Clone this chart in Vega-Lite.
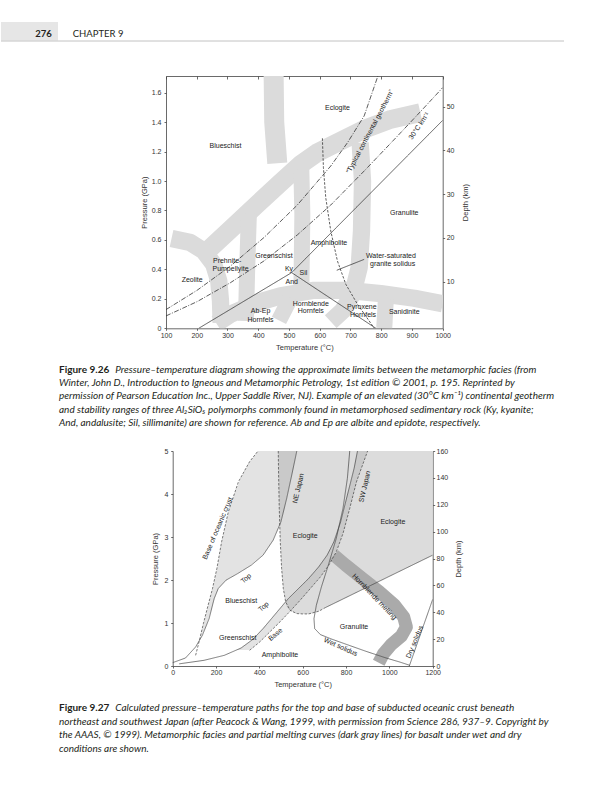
{
"$schema": "https://vega.github.io/schema/vega-lite/v6.json",
"padding": {"left": 0, "top": 22, "right": 0, "bottom": 0},
"spacing": 0,
"bounds": "flush",
"config": {
  "view": {"stroke": null},
  "font": "Liberation Sans",
  "text": {"font": "Liberation Sans", "fontSize": 7, "color": "#222222"},
  "axis": {"labelFont": "Liberation Sans", "titleFont": "Liberation Sans", "labelFontSize": 7, "titleFontSize": 7.5, "titleFontWeight": "normal", "labelColor": "#333333", "titleColor": "#333333", "domainColor": "#444444", "tickColor": "#444444", "domainWidth": 0.8, "tickWidth": 0.8, "tickSize": 2, "labelPadding": 2, "grid": false, "labelFlush": false, "labelOverlap": false}
},
"datasets": {
  "f1_bands": [
    {"id":"b1","w":"wide","i":0,"T":225.0,"P":0.507},{"id":"b1","w":"wide","i":1,"T":309.8,"P":0.672},{"id":"b1","w":"wide","i":2,"T":396.8,"P":0.842},{"id":"b1","w":"wide","i":3,"T":472.8,"P":0.989},{"id":"b1","w":"wide","i":4,"T":538.1,"P":1.113},{"id":"b1","w":"wide","i":5,"T":592.4,"P":1.193},{"id":"b1","w":"wide","i":6,"T":657.6,"P":1.26},{"id":"b1","w":"wide","i":7,"T":744.6,"P":1.351},{"id":"b1","w":"wide","i":8,"T":831.6,"P":1.419},{"id":"b1","w":"wide","i":9,"T":927.2,"P":1.464},
    {"id":"b2a","w":"xwide","i":0,"T":450,"P":1.73},{"id":"b2a","w":"xwide","i":1,"T":452,"P":1.4},{"id":"b2a","w":"xwide","i":2,"T":462,"P":1.12},
    {"id":"b2b","w":"narrow","i":0,"T":540.2,"P":1.079},{"id":"b2b","w":"narrow","i":1,"T":543.5,"P":0.774},{"id":"b2b","w":"narrow","i":2,"T":540.2,"P":0.231},
    {"id":"b3","w":"mid","i":0,"T":118,"P":0.61},{"id":"b3","w":"mid","i":1,"T":179.4,"P":0.582},{"id":"b3","w":"mid","i":2,"T":222.8,"P":0.525},{"id":"b3","w":"mid","i":3,"T":255.4,"P":0.434},{"id":"b3","w":"mid","i":4,"T":271.7,"P":0.321},{"id":"b3","w":"mid","i":5,"T":277.2,"P":0.186},{"id":"b3","w":"mid","i":6,"T":279.4,"P":0.038},
    {"id":"b4","w":"narrow","i":0,"T":369.6,"P":0.778},{"id":"b4","w":"narrow","i":1,"T":364,"P":0.4},{"id":"b4","w":"narrow","i":2,"T":360,"P":0.05},
    {"id":"b5","w":"mid","i":0,"T":731.5,"P":1.26},{"id":"b5","w":"mid","i":1,"T":739.2,"P":1.0},{"id":"b5","w":"mid","i":2,"T":735.9,"P":0.661},{"id":"b5","w":"mid","i":3,"T":728.3,"P":0.412},{"id":"b5","w":"mid","i":4,"T":706.6,"P":0.231},{"id":"b5","w":"mid","i":5,"T":673.9,"P":0.118},{"id":"b5","w":"mid","i":6,"T":635.9,"P":0.045},
    {"id":"b6","w":"mid","i":0,"T":264.1,"P":0.032},{"id":"b6","w":"mid","i":1,"T":309.8,"P":0.095},{"id":"b6","w":"mid","i":2,"T":396.8,"P":0.174},{"id":"b6","w":"mid","i":3,"T":472.8,"P":0.22},{"id":"b6","w":"mid","i":4,"T":581.5,"P":0.258},{"id":"b6","w":"mid","i":5,"T":690.2,"P":0.258},{"id":"b6","w":"mid","i":6,"T":798.9,"P":0.235},{"id":"b6","w":"mid","i":7,"T":907.6,"P":0.204},{"id":"b6","w":"mid","i":8,"T":1000,"P":0.167},
    {"id":"b7","w":"narrow","i":0,"T":467.4,"P":0.054},{"id":"b7","w":"narrow","i":1,"T":505.5,"P":0.208},
    {"id":"b8","w":"narrow","i":0,"T":815.2,"P":0.197},{"id":"b8","w":"narrow","i":1,"T":809.8,"P":0.0}
  ],
  "f1_lines": [
    {"id":"geo","style":"dashdot","i":0,"T":100,"P":0.127},{"id":"geo","style":"dashdot","i":1,"T":201.1,"P":0.258},{"id":"geo","style":"dashdot","i":2,"T":309.8,"P":0.423},{"id":"geo","style":"dashdot","i":3,"T":418.5,"P":0.616},{"id":"geo","style":"dashdot","i":4,"T":527.2,"P":0.837},{"id":"geo","style":"dashdot","i":5,"T":635.9,"P":1.102},{"id":"geo","style":"dashdot","i":6,"T":690.2,"P":1.26},{"id":"geo","style":"dashdot","i":7,"T":744.6,"P":1.442},{"id":"geo","style":"dashdot","i":8,"T":792,"P":1.73},
    {"id":"g30","style":"dashdot","i":0,"T":100,"P":0.084},{"id":"g30","style":"dashdot","i":1,"T":201.1,"P":0.181},{"id":"g30","style":"dashdot","i":2,"T":309.8,"P":0.31},{"id":"g30","style":"dashdot","i":3,"T":418.5,"P":0.457},{"id":"g30","style":"dashdot","i":4,"T":527.2,"P":0.634},{"id":"g30","style":"dashdot","i":5,"T":635.9,"P":0.837},{"id":"g30","style":"dashdot","i":6,"T":744.6,"P":1.068},{"id":"g30","style":"dashdot","i":7,"T":853.3,"P":1.306},{"id":"g30","style":"dashdot","i":8,"T":929.4,"P":1.475},{"id":"g30","style":"dashdot","i":9,"T":1000,"P":1.634},
    {"id":"alsi","style":"solid","i":0,"T":206.5,"P":0.0},{"id":"alsi","style":"solid","i":1,"T":508.7,"P":0.378},{"id":"alsi","style":"solid","i":2,"T":1000,"P":1.412},
    {"id":"andsil","style":"solid","i":0,"T":508.7,"P":0.378},{"id":"andsil","style":"solid","i":1,"T":782.6,"P":0.0},
    {"id":"wss","style":"dashed","i":0,"T":608.7,"P":1.29},{"id":"wss","style":"dashed","i":1,"T":612,"P":1.091},{"id":"wss","style":"dashed","i":2,"T":619.6,"P":0.887},{"id":"wss","style":"dashed","i":3,"T":635.9,"P":0.661},{"id":"wss","style":"dashed","i":4,"T":657.6,"P":0.457},{"id":"wss","style":"dashed","i":5,"T":684.8,"P":0.299},{"id":"wss","style":"dashed","i":6,"T":722.9,"P":0.163},{"id":"wss","style":"dashed","i":7,"T":760.9,"P":0.05},{"id":"wss","style":"dashed","i":8,"T":777.2,"P":0.0},
    {"id":"leader","style":"solid","i":0,"T":744.6,"P":0.468},{"id":"leader","style":"solid","i":1,"T":655.4,"P":0.394}
  ],
  "f1_labels": [
    {"text":"Eclogite","T":657.6,"P":1.498},{"text":"Blueschist","T":293.5,"P":1.238},{"text":"Granulite","T":875,"P":0.785},{"text":"Amphibolite","T":630,"P":0.582},{"text":"Greenschist","T":451,"P":0.491},{"text":"Prehnite-","T":299,"P":0.457},{"text":"Pumpellyite","T":310,"P":0.4},{"text":"Zeolite","T":185,"P":0.328},{"text":"Water-saturated","T":831.6,"P":0.491},{"text":"granite solidus","T":837,"P":0.434},{"text":"Ky","T":500,"P":0.405},{"text":"Sil","T":547,"P":0.378},{"text":"And","T":509,"P":0.317},{"text":"Hornblende","T":571,"P":0.167},{"text":"Hornfels","T":571,"P":0.118},{"text":"Ab-Ep","T":407.6,"P":0.118},{"text":"Hornfels","T":407.6,"P":0.054},{"text":"Pyroxene","T":737,"P":0.145},{"text":"Hornfels","T":741,"P":0.09},{"text":"Sanidinite","T":875,"P":0.113}
  ],
  "f2_field": [
    {"P":1.211,"TL":600,"TR":627},{"P":1.219,"TL":572.8,"TR":640},{"P":1.25,"TL":556,"TR":660},{"P":1.297,"TL":541.6,"TR":682},{"P":1.359,"TL":528,"TR":705},{"P":1.491,"TL":521.4,"TR":758.6},{"P":1.801,"TL":510.5,"TR":884.5},{"P":2.267,"TL":502.7,"TR":1073.7},{"P":2.578,"TL":499.5,"TR":1200},{"P":2.888,"TL":496.5,"TR":1200},{"P":3.665,"TL":491.8,"TR":1200},{"P":4.441,"TL":488.7,"TR":1200},{"P":5.0,"TL":487.2,"TR":1200}
  ],
  "f2_hatch": [
    {"id":"NE","P":0.6,"TL":123.3,"TR":123.9},{"id":"NE","P":1.0,"TL":142.3,"TR":159.9},{"id":"NE","P":1.4,"TL":162.7,"TR":183.0},{"id":"NE","P":1.8,"TL":183.7,"TR":210.0},{"id":"NE","P":2.0,"TL":192.3,"TR":247.6},{"id":"NE","P":2.3,"TL":205.1,"TR":348.2},{"id":"NE","P":2.6,"TL":215.6,"TR":420.0},{"id":"NE","P":2.9,"TL":226.2,"TR":460.2},{"id":"NE","P":3.3,"TL":244.0,"TR":495.1},{"id":"NE","P":3.6,"TL":257.7,"TR":511.6},{"id":"NE","P":4.0,"TL":284.4,"TR":530.5},{"id":"NE","P":4.4,"TL":316.1,"TR":547.6},{"id":"NE","P":4.75,"TL":354.8,"TR":562.3},{"id":"NE","P":5.0,"TL":393.8,"TR":572.8},
    {"id":"SW","P":0.37,"TL":293.6,"TR":355},{"id":"SW","P":0.4,"TL":307.3,"TR":363.3},{"id":"SW","P":0.6,"TL":364.7,"TR":409.8},{"id":"SW","P":0.8,"TL":404.0,"TR":449.8},{"id":"SW","P":1.0,"TL":438.9,"TR":489.9},{"id":"SW","P":1.3,"TL":489.1,"TR":546.5},{"id":"SW","P":1.6,"TL":540.2,"TR":600.4},{"id":"SW","P":1.9,"TL":600.3,"TR":652.0},{"id":"SW","P":2.2,"TL":655.7,"TR":699.9},{"id":"SW","P":2.5,"TL":701.6,"TR":737.8},{"id":"SW","P":2.8,"TL":735.1,"TR":765.5},{"id":"SW","P":3.1,"TL":758.1,"TR":787.0},{"id":"SW","P":3.5,"TL":782.4,"TR":808.3},{"id":"SW","P":4.0,"TL":807.5,"TR":833.9},{"id":"SW","P":4.5,"TL":832.5,"TR":863.6},{"id":"SW","P":5.0,"TL":852.9,"TR":899.6}
  ],
  "f2_hbl": [
    {"i":0,"T":744.0,"P":2.578},{"i":1,"T":798.4,"P":2.345},{"i":2,"T":876.2,"P":2.034},{"i":3,"T":954.1,"P":1.724},{"i":4,"T":1024.1,"P":1.413},{"i":5,"T":1066.1,"P":1.141},{"i":6,"T":1078.6,"P":0.908},{"i":7,"T":1055.2,"P":0.699},{"i":8,"T":1008.5,"P":0.497},{"i":9,"T":972.7,"P":0.287},{"i":10,"T":951.0,"P":0.078}
  ],
  "f2_lines": [
    {"id":"ne_base","style":"dashed","i":0,"T":105.8,"P":0.248},{"id":"ne_base","style":"dashed","i":1,"T":121.4,"P":0.559},{"id":"ne_base","style":"dashed","i":2,"T":141.6,"P":0.986},{"id":"ne_base","style":"dashed","i":3,"T":163.4,"P":1.413},{"id":"ne_base","style":"dashed","i":4,"T":183.7,"P":1.801},{"id":"ne_base","style":"dashed","i":5,"T":203.9,"P":2.267},{"id":"ne_base","style":"dashed","i":6,"T":225.7,"P":2.888},{"id":"ne_base","style":"dashed","i":7,"T":256.8,"P":3.587},{"id":"ne_base","style":"dashed","i":8,"T":303.5,"P":4.286},{"id":"ne_base","style":"dashed","i":9,"T":354.9,"P":4.752},{"id":"ne_base","style":"dashed","i":10,"T":393.8,"P":5.0},
    {"id":"ne_top","style":"solid","i":0,"T":0,"P":0.078},{"id":"ne_top","style":"solid","i":1,"T":59.1,"P":0.186},{"id":"ne_top","style":"solid","i":2,"T":105.8,"P":0.443},{"id":"ne_top","style":"solid","i":3,"T":137.0,"P":0.714},{"id":"ne_top","style":"solid","i":4,"T":168.1,"P":1.102},{"id":"ne_top","style":"solid","i":5,"T":191.4,"P":1.568},{"id":"ne_top","style":"solid","i":6,"T":210.1,"P":1.801},{"id":"ne_top","style":"solid","i":7,"T":245.9,"P":1.995},{"id":"ne_top","style":"solid","i":8,"T":300.4,"P":2.151},{"id":"ne_top","style":"solid","i":9,"T":362.6,"P":2.345},{"id":"ne_top","style":"solid","i":10,"T":417.1,"P":2.578},{"id":"ne_top","style":"solid","i":11,"T":463.8,"P":2.927},{"id":"ne_top","style":"solid","i":12,"T":499.6,"P":3.354},{"id":"ne_top","style":"solid","i":13,"T":526.1,"P":3.898},{"id":"ne_top","style":"solid","i":14,"T":549.4,"P":4.441},{"id":"ne_top","style":"solid","i":15,"T":572.8,"P":5.0},
    {"id":"sw_top","style":"solid","i":0,"T":30,"P":0.05},{"id":"sw_top","style":"solid","i":1,"T":144.7,"P":0.132},{"id":"sw_top","style":"solid","i":2,"T":238.1,"P":0.248},{"id":"sw_top","style":"solid","i":3,"T":315.9,"P":0.419},{"id":"sw_top","style":"solid","i":4,"T":370.4,"P":0.621},{"id":"sw_top","style":"solid","i":5,"T":417.1,"P":0.87},{"id":"sw_top","style":"solid","i":6,"T":456.0,"P":1.102},{"id":"sw_top","style":"solid","i":7,"T":494.9,"P":1.335},{"id":"sw_top","style":"solid","i":8,"T":533.8,"P":1.568},{"id":"sw_top","style":"solid","i":9,"T":580.5,"P":1.801},{"id":"sw_top","style":"solid","i":10,"T":627.2,"P":2.034},{"id":"sw_top","style":"solid","i":11,"T":673.9,"P":2.306},{"id":"sw_top","style":"solid","i":12,"T":712.8,"P":2.578},{"id":"sw_top","style":"solid","i":13,"T":744.0,"P":2.888},{"id":"sw_top","style":"solid","i":14,"T":775.1,"P":3.354},{"id":"sw_top","style":"solid","i":15,"T":806.2,"P":3.975},{"id":"sw_top","style":"solid","i":16,"T":837.3,"P":4.596},{"id":"sw_top","style":"solid","i":17,"T":852.9,"P":5.0},
    {"id":"sw_base","style":"dashed","i":0,"T":354.9,"P":0.365},{"id":"sw_base","style":"dashed","i":1,"T":401.6,"P":0.559},{"id":"sw_base","style":"dashed","i":2,"T":448.2,"P":0.792},{"id":"sw_base","style":"dashed","i":3,"T":494.9,"P":1.025},{"id":"sw_base","style":"dashed","i":4,"T":541.6,"P":1.273},{"id":"sw_base","style":"dashed","i":5,"T":588.3,"P":1.53},{"id":"sw_base","style":"dashed","i":6,"T":635.0,"P":1.801},{"id":"sw_base","style":"dashed","i":7,"T":681.7,"P":2.073},{"id":"sw_base","style":"dashed","i":8,"T":720.6,"P":2.345},{"id":"sw_base","style":"dashed","i":9,"T":754.9,"P":2.655},{"id":"sw_base","style":"dashed","i":10,"T":786.0,"P":3.082},{"id":"sw_base","style":"dashed","i":11,"T":817.1,"P":3.665},{"id":"sw_base","style":"dashed","i":12,"T":848.2,"P":4.286},{"id":"sw_base","style":"dashed","i":13,"T":899.6,"P":5.0},
    {"id":"wet","style":"solid","i":0,"T":817.1,"P":5.0},{"id":"wet","style":"solid","i":1,"T":806.2,"P":4.363},{"id":"wet","style":"solid","i":2,"T":786.0,"P":3.665},{"id":"wet","style":"solid","i":3,"T":754.9,"P":2.966},{"id":"wet","style":"solid","i":4,"T":720.6,"P":2.384},{"id":"wet","style":"solid","i":5,"T":686.4,"P":1.84},{"id":"wet","style":"solid","i":6,"T":663.0,"P":1.413},{"id":"wet","style":"solid","i":7,"T":652.1,"P":1.102},{"id":"wet","style":"solid","i":8,"T":655.2,"P":0.87},{"id":"wet","style":"solid","i":9,"T":681.7,"P":0.73},{"id":"wet","style":"solid","i":10,"T":736.2,"P":0.621},{"id":"wet","style":"solid","i":11,"T":814.0,"P":0.481},{"id":"wet","style":"solid","i":12,"T":891.8,"P":0.342},{"id":"wet","style":"solid","i":13,"T":985.2,"P":0.186},{"id":"wet","style":"solid","i":14,"T":1047.5,"P":0.093},{"id":"wet","style":"solid","i":15,"T":1094.1,"P":0.016},
    {"id":"dry","style":"solid","i":0,"T":1092,"P":0.0},{"id":"dry","style":"solid","i":1,"T":1200,"P":1.55},
    {"id":"fieldL","style":"dashed","i":0,"T":487.2,"P":5.0},{"id":"fieldL","style":"dashed","i":1,"T":488.7,"P":4.441},{"id":"fieldL","style":"dashed","i":2,"T":491.8,"P":3.665},{"id":"fieldL","style":"dashed","i":3,"T":496.5,"P":2.888},{"id":"fieldL","style":"dashed","i":4,"T":502.7,"P":2.267},{"id":"fieldL","style":"dashed","i":5,"T":510.5,"P":1.801},{"id":"fieldL","style":"dashed","i":6,"T":521.4,"P":1.491},{"id":"fieldL","style":"dashed","i":7,"T":541.6,"P":1.297},{"id":"fieldL","style":"dashed","i":8,"T":572.8,"P":1.219},{"id":"fieldL","style":"dashed","i":9,"T":600,"P":1.211},{"id":"fieldL","style":"dashed","i":10,"T":627.2,"P":1.211},{"id":"fieldL","style":"dashed","i":11,"T":673.9,"P":1.273},{"id":"fieldL","style":"dashed","i":12,"T":705,"P":1.359},
    {"id":"fieldR","style":"solid","i":0,"T":705,"P":1.359},{"id":"fieldR","style":"solid","i":1,"T":1200,"P":2.578}
  ],
  "f2_labels": [
    {"text":"Eclogite","T":611.6,"P":3.02},{"text":"Eclogite","T":1016,"P":3.35},{"text":"Blueschist","T":316,"P":1.51},{"text":"Greenschist","T":300,"P":0.64},{"text":"Amphibolite","T":495,"P":0.25},{"text":"Granulite","T":837,"P":0.91}
  ]
},
"vconcat": [
  {
    "width": 57, "height": 18.5,
    "view": {"fill": "#e6e6e6", "stroke": null},
    "data": {"values": [{"a": "276", "b": "CHAPTER 9"}]},
    "layer": [
      {"mark": {"type": "text", "align": "right", "baseline": "middle", "dx": 22.2, "dy": 2.75, "font": "Lato", "fontSize": 9.5, "fontWeight": "bold", "color": "#231f20"}, "encoding": {"text": {"field": "a"}}},
      {"mark": {"type": "text", "align": "left", "baseline": "middle", "dx": 43.2, "dy": 2.75, "font": "Lato", "fontSize": 9.5, "color": "#231f20"}, "encoding": {"text": {"field": "b"}}}
    ]
  },
  {
    "width": 563, "height": 34.5,
    "data": {"values": [{}]},
    "mark": {"type": "rule", "color": "#c2c2c2", "strokeWidth": 1},
    "encoding": {
      "x": {"datum": 0, "type": "quantitative", "scale": {"domain": [0, 1]}, "axis": null},
      "x2": {"datum": 1},
      "y": {"datum": 1, "type": "quantitative", "scale": {"domain": [0, 1]}, "axis": null}
    }
  },
  {
    "width": 441.7, "height": 252.3,
    "resolve": {"axis": {"x": "independent", "y": "independent"}},
    "layer": [
      {
        "data": {"name": "f1_bands"},
        "mark": {"type": "line", "clip": true, "color": "#dbdbdb", "strokeCap": "butt", "strokeJoin": "round"},
        "encoding": {
          "x": {"field": "T", "type": "quantitative", "scale": {"domain": [100, 1000], "range": [165, 441.7], "nice": false, "zero": false},
                "axis": {"orient": "bottom", "values": [100,200,300,400,500,600,700,800,900,1000], "format": "d", "title": "Temperature (°C)", "labelPadding": 1.2, "titlePadding": 5}},
          "y": {"field": "P", "type": "quantitative", "scale": {"domain": [0, 1.713], "nice": false, "zero": false},
                "axis": {"orient": "left", "offset": -165, "values": [0,0.2,0.4,0.6,0.8,1.0,1.2,1.4,1.6], "labelExpr": "datum.value == 0 ? '0' : format(datum.value, '.1f')", "title": "Pressure (GPa)", "labelPadding": 3, "titlePadding": 2.5}},
          "detail": {"field": "id"},
          "order": {"field": "i"},
          "strokeWidth": {"field": "w", "type": "nominal", "scale": {"domain": ["xwide", "wide", "mid", "narrow"], "range": [20, 16, 10, 7]}, "legend": null}
        }
      },
      {
        "data": {"name": "f1_lines"},
        "mark": {"type": "line", "clip": true, "color": "#333333", "strokeWidth": 0.8},
        "encoding": {
          "x": {"field": "T", "type": "quantitative", "scale": {"domain": [100, 1000], "range": [165, 441.7], "nice": false, "zero": false},
                "axis": {"orient": "top", "values": [100,200,300,400,500,600,700,800,900,1000], "labels": false, "title": null, "tickSize": -3}},
          "y": {"field": "P", "type": "quantitative", "scale": {"domain": [0, 1.713], "nice": false, "zero": false},
                "axis": {"orient": "right", "values": [0.3168, 0.6139, 0.911, 1.2082, 1.5053], "labelExpr": "format(round((datum.value * 147.25 - 2.9) / 4.375), 'd')", "title": "Depth (km)", "titleAngle": 270, "titleBaseline": "top", "labelPadding": 1.5, "titlePadding": 8}},
          "detail": {"field": "id"},
          "order": {"field": "i"},
          "strokeDash": {"field": "style", "type": "nominal", "scale": {"domain": ["solid", "dashdot", "dashed"], "range": [[1, 0], [5, 1.5, 1, 1.5], [2.5, 1.5]]}, "legend": null}
        }
      },
      {
        "data": {"name": "f1_labels"},
        "mark": {"type": "text", "baseline": "middle"},
        "encoding": {
          "x": {"field": "T", "type": "quantitative", "scale": {"domain": [100, 1000], "range": [165, 441.7], "nice": false, "zero": false}, "axis": null},
          "y": {"field": "P", "type": "quantitative", "scale": {"domain": [0, 1.713], "nice": false, "zero": false}, "axis": null},
          "text": {"field": "text"}
        }
      },
      {
        "data": {"values": [{"text": "“Typical continental geotherm”", "T": 764, "P": 1.335}]},
        "mark": {"type": "text", "baseline": "middle", "angle": -62},
        "encoding": {
          "x": {"field": "T", "type": "quantitative", "scale": {"domain": [100, 1000], "range": [165, 441.7], "nice": false, "zero": false}, "axis": null},
          "y": {"field": "P", "type": "quantitative", "scale": {"domain": [0, 1.713], "nice": false, "zero": false}, "axis": null},
          "text": {"field": "text"}
        }
      },
      {
        "data": {"values": [{"text": "30°C km⁻¹", "T": 924, "P": 1.374}]},
        "mark": {"type": "text", "baseline": "middle", "angle": -55},
        "encoding": {
          "x": {"field": "T", "type": "quantitative", "scale": {"domain": [100, 1000], "range": [165, 441.7], "nice": false, "zero": false}, "axis": null},
          "y": {"field": "P", "type": "quantitative", "scale": {"domain": [0, 1.713], "nice": false, "zero": false}, "axis": null},
          "text": {"field": "text"}
        }
      }
    ]
  },
  {
    "width": 116, "height": 121.7,
    "layer": [
      {"data": {"values": [{"t": "Figure 9.26"}]}, "mark": {"type": "text", "align": "left", "baseline": "middle", "dy": -20.15, "font": "Lato", "fontSize": 10, "fontWeight": "bold", "color": "#231f20"}, "encoding": {"text": {"field": "t"}}},
      {"data": {"values": [{"t": "Pressure–temperature diagram showing the approximate limits between the metamorphic facies (from"}]}, "mark": {"type": "text", "align": "left", "baseline": "middle", "dx": 56.3, "dy": -20.15, "font": "Lato", "fontSize": 10, "fontStyle": "italic", "color": "#231f20"}, "encoding": {"text": {"field": "t"}}},
      {"data": {"values": [{"t": "Winter, John D., Introduction to Igneous and Metamorphic Petrology, 1st edition © 2001, p. 195. Reprinted by"}]}, "mark": {"type": "text", "align": "left", "baseline": "middle", "dy": -6.85, "font": "Lato", "fontSize": 10, "fontStyle": "italic", "color": "#231f20"}, "encoding": {"text": {"field": "t"}}},
      {"data": {"values": [{"t": "permission of Pearson Education Inc., Upper Saddle River, NJ). Example of an elevated (30°C km⁻¹) continental geotherm"}]}, "mark": {"type": "text", "align": "left", "baseline": "middle", "dy": 6.45, "font": "Lato", "fontSize": 10, "fontStyle": "italic", "color": "#231f20"}, "encoding": {"text": {"field": "t"}}},
      {"data": {"values": [{"t": "and stability ranges of three Al₂SiO₅ polymorphs commonly found in metamorphosed sedimentary rock (Ky, kyanite;"}]}, "mark": {"type": "text", "align": "left", "baseline": "middle", "dy": 19.75, "font": "Lato", "fontSize": 10, "fontStyle": "italic", "color": "#231f20"}, "encoding": {"text": {"field": "t"}}},
      {"data": {"values": [{"t": "And, andalusite; Sil, sillimanite) are shown for reference. Ab and Ep are albite and epidote, respectively."}]}, "mark": {"type": "text", "align": "left", "baseline": "middle", "dy": 33.05, "font": "Lato", "fontSize": 10, "fontStyle": "italic", "color": "#231f20"}, "encoding": {"text": {"field": "t"}}}
    ]
  },
  {
    "width": 431.7, "height": 215,
    "resolve": {"axis": {"x": "independent", "y": "independent"}},
    "layer": [
      {
        "data": {"name": "f2_field"},
        "mark": {"type": "area", "orient": "horizontal", "color": "#dcdcdc", "clip": true},
        "encoding": {
          "y": {"field": "P", "type": "quantitative", "scale": {"domain": [0, 5], "nice": false, "zero": false},
                "axis": {"orient": "left", "offset": -171.7, "values": [0,1,2,3,4,5], "format": "d", "title": "Pressure (GPa)", "labelPadding": 2.7, "titlePadding": 5}},
          "x": {"field": "TL", "type": "quantitative", "scale": {"domain": [0, 1200], "range": [171.7, 431.7], "nice": false, "zero": false},
                "axis": {"orient": "bottom", "values": [0,200,400,600,800,1000,1200], "format": "d", "title": "Temperature (°C)", "labelPadding": 0.8, "titlePadding": 4.5}},
          "x2": {"field": "TR"}
        }
      },
      {
        "data": {"name": "f2_hatch"},
        "mark": {"type": "area", "orient": "horizontal", "color": "#999999", "opacity": 0.28, "clip": true},
        "encoding": {
          "y": {"field": "P", "type": "quantitative", "scale": {"domain": [0, 5], "nice": false, "zero": false}, "axis": null},
          "x": {"field": "TL", "type": "quantitative", "scale": {"domain": [0, 1200], "range": [171.7, 431.7], "nice": false, "zero": false}, "axis": null},
          "x2": {"field": "TR"},
          "detail": {"field": "id"}
        }
      },
      {
        "data": {"name": "f2_hbl"},
        "mark": {"type": "line", "clip": true, "color": "#aaaaaa", "strokeWidth": 13, "strokeCap": "butt", "strokeJoin": "round"},
        "encoding": {
          "x": {"field": "T", "type": "quantitative", "scale": {"domain": [0, 1200], "range": [171.7, 431.7], "nice": false, "zero": false}, "axis": null},
          "y": {"field": "P", "type": "quantitative", "scale": {"domain": [0, 5], "nice": false, "zero": false}, "axis": null},
          "order": {"field": "i"}
        }
      },
      {
        "data": {"name": "f2_lines"},
        "mark": {"type": "line", "clip": true, "color": "#444444", "strokeWidth": 0.7},
        "encoding": {
          "x": {"field": "T", "type": "quantitative", "scale": {"domain": [0, 1200], "range": [171.7, 431.7], "nice": false, "zero": false}, "axis": null},
          "y": {"field": "P", "type": "quantitative", "scale": {"domain": [0, 5], "nice": false, "zero": false},
                "axis": {"orient": "right", "values": [0, 0.625, 1.25, 1.875, 2.5, 3.125, 3.75, 4.375, 5], "labelExpr": "format(round(datum.value * 32), 'd')", "title": "Depth (km)", "titleAngle": 270, "titleBaseline": "top", "labelPadding": 1.3, "titlePadding": 7}},
          "detail": {"field": "id"},
          "order": {"field": "i"},
          "strokeDash": {"field": "style", "type": "nominal", "scale": {"domain": ["solid", "dashed"], "range": [[1, 0], [3, 1.5]]}, "legend": null}
        }
      },
      {
        "data": {"name": "f2_labels"},
        "mark": {"type": "text", "baseline": "middle"},
        "encoding": {
          "x": {"field": "T", "type": "quantitative", "scale": {"domain": [0, 1200], "range": [171.7, 431.7], "nice": false, "zero": false}, "axis": null},
          "y": {"field": "P", "type": "quantitative", "scale": {"domain": [0, 5], "nice": false, "zero": false}, "axis": null},
          "text": {"field": "text"}
        }
      },
      {
        "data": {"values": [{"text": "Hornblende melting", "T": 930.7, "P": 1.607}]},
        "mark": {"type": "text", "baseline": "middle", "angle": 46},
        "encoding": {
          "x": {"field": "T", "type": "quantitative", "scale": {"domain": [0, 1200], "range": [171.7, 431.7], "nice": false, "zero": false}, "axis": null},
          "y": {"field": "P", "type": "quantitative", "scale": {"domain": [0, 5], "nice": false, "zero": false}, "axis": null},
          "text": {"field": "text"}
        }
      },
      {
        "data": {"values": [{"text": "Wet solidus", "T": 775.1, "P": 0.44}]},
        "mark": {"type": "text", "baseline": "middle", "angle": 24},
        "encoding": {
          "x": {"field": "T", "type": "quantitative", "scale": {"domain": [0, 1200], "range": [171.7, 431.7], "nice": false, "zero": false}, "axis": null},
          "y": {"field": "P", "type": "quantitative", "scale": {"domain": [0, 5], "nice": false, "zero": false}, "axis": null},
          "text": {"field": "text"}
        }
      },
      {
        "data": {"values": [{"text": "Dry solidus", "T": 1117.5, "P": 0.559}, {"text": "Base of oceanic crust", "T": 208, "P": 3.2}]},
        "mark": {"type": "text", "baseline": "middle", "angle": -67},
        "encoding": {
          "x": {"field": "T", "type": "quantitative", "scale": {"domain": [0, 1200], "range": [171.7, 431.7], "nice": false, "zero": false}, "axis": null},
          "y": {"field": "P", "type": "quantitative", "scale": {"domain": [0, 5], "nice": false, "zero": false}, "axis": null},
          "text": {"field": "text"}
        }
      },
      {
        "data": {"values": [{"text": "NE Japan", "T": 580.5, "P": 4.13}, {"text": "SW Japan", "T": 887.1, "P": 4.17}]},
        "mark": {"type": "text", "baseline": "middle", "angle": -77},
        "encoding": {
          "x": {"field": "T", "type": "quantitative", "scale": {"domain": [0, 1200], "range": [171.7, 431.7], "nice": false, "zero": false}, "axis": null},
          "y": {"field": "P", "type": "quantitative", "scale": {"domain": [0, 5], "nice": false, "zero": false}, "axis": null},
          "text": {"field": "text"}
        }
      },
      {
        "data": {"values": [{"text": "Top", "T": 339.3, "P": 2.034}, {"text": "Top", "T": 420.2, "P": 1.374}, {"text": "Base", "T": 474.7, "P": 0.73}]},
        "mark": {"type": "text", "baseline": "middle", "angle": -40},
        "encoding": {
          "x": {"field": "T", "type": "quantitative", "scale": {"domain": [0, 1200], "range": [171.7, 431.7], "nice": false, "zero": false}, "axis": null},
          "y": {"field": "P", "type": "quantitative", "scale": {"domain": [0, 5], "nice": false, "zero": false}, "axis": null},
          "text": {"field": "text"}
        }
      }
    ]
  },
  {
    "width": 116, "height": 90,
    "layer": [
      {"data": {"values": [{"t": "Figure 9.27"}]}, "mark": {"type": "text", "align": "left", "baseline": "middle", "dy": -3, "font": "Lato", "fontSize": 10, "fontWeight": "bold", "color": "#231f20"}, "encoding": {"text": {"field": "t"}}},
      {"data": {"values": [{"t": "Calculated pressure–temperature paths for the top and base of subducted oceanic crust beneath"}]}, "mark": {"type": "text", "align": "left", "baseline": "middle", "dx": 56.3, "dy": -3, "font": "Lato", "fontSize": 10, "fontStyle": "italic", "color": "#231f20"}, "encoding": {"text": {"field": "t"}}},
      {"data": {"values": [{"t": "northeast and southwest Japan (after Peacock & Wang, 1999, with permission from Science 286, 937–9. Copyright by"}]}, "mark": {"type": "text", "align": "left", "baseline": "middle", "dy": 10.5, "font": "Lato", "fontSize": 10, "fontStyle": "italic", "color": "#231f20"}, "encoding": {"text": {"field": "t"}}},
      {"data": {"values": [{"t": "the AAAS, © 1999). Metamorphic facies and partial melting curves (dark gray lines) for basalt under wet and dry"}]}, "mark": {"type": "text", "align": "left", "baseline": "middle", "dy": 24, "font": "Lato", "fontSize": 10, "fontStyle": "italic", "color": "#231f20"}, "encoding": {"text": {"field": "t"}}},
      {"data": {"values": [{"t": "conditions are shown."}]}, "mark": {"type": "text", "align": "left", "baseline": "middle", "dy": 37.5, "font": "Lato", "fontSize": 10, "fontStyle": "italic", "color": "#231f20"}, "encoding": {"text": {"field": "t"}}}
    ]
  }
]
}
